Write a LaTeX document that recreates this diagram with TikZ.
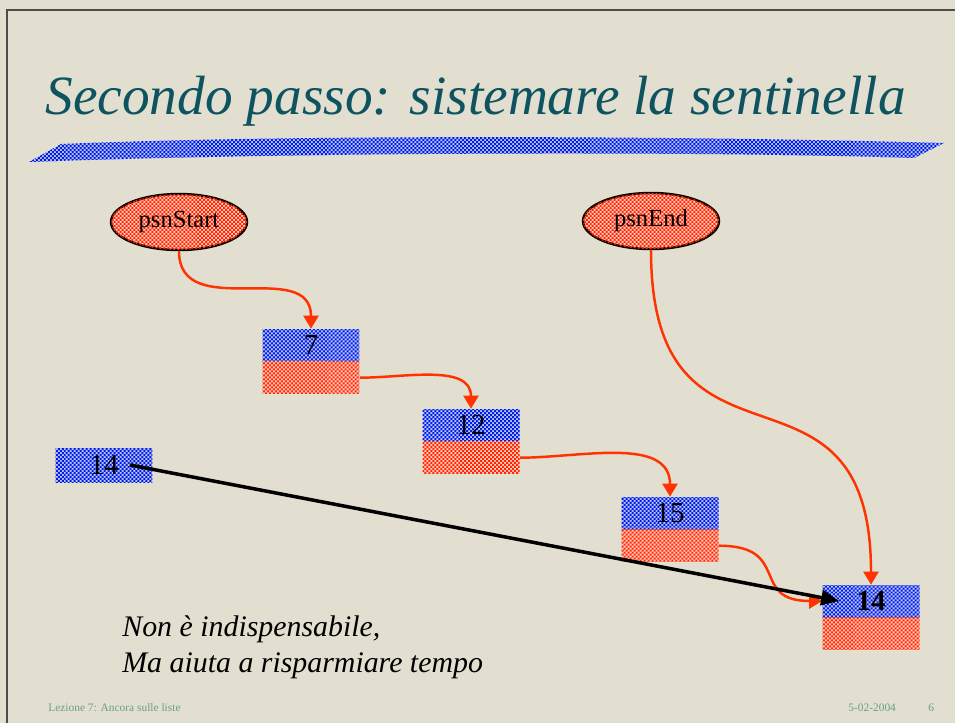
\documentclass[tikz,border=0pt]{standalone}
\usepackage{fontspec}
\setmainfont{Liberation Serif}
\usetikzlibrary{positioning, arrows.meta, shapes.geometric, patterns}
\definecolor{slidebg}{RGB}{226,223,209}
\definecolor{titleteal}{RGB}{14,84,96}
\definecolor{chkblue}{RGB}{0,30,225}
\definecolor{chkred}{RGB}{255,40,0}
\definecolor{linkred}{RGB}{255,50,0}
\definecolor{footgreen}{RGB}{105,160,125}
\pgfdeclarepatternformonly{finechecker}{\pgfqpoint{-0.1pt}{-0.1pt}}{\pgfqpoint{2.368pt}{2.368pt}}{\pgfqpoint{2.268pt}{2.268pt}}{%
	\pgfpathrectangle{\pgfqpoint{0pt}{0pt}}{\pgfqpoint{1.134pt}{1.134pt}}%
	\pgfpathrectangle{\pgfqpoint{1.134pt}{1.134pt}}{\pgfqpoint{1.134pt}{1.134pt}}%
	\pgfusepath{fill}}

\begin{document}
\begin{tikzpicture}[
		x=0.02cm, y=-0.02cm,
		>=stealth,
		ptr/.style={draw, ellipse, line width=1.4pt, minimum width=2.72cm, minimum height=1.12cm, inner sep=0pt, fill=chkred!22!white, postaction={pattern=finechecker, pattern color=chkred}, font=\fontsize{14}{14}\selectfont},
		datafld/.style={rectangle, minimum width=1.94cm, minimum height=0.64cm, inner sep=0pt, fill=chkblue!25!white, postaction={pattern=finechecker, pattern color=chkblue}, font=\fontsize{16.5}{16.5}\selectfont},
		nextfld/.style={rectangle, minimum width=1.94cm, minimum height=0.64cm, inner sep=0pt, fill=chkred!22!white, postaction={pattern=finechecker, pattern color=chkred}},
		link/.style={draw=linkred, line width=1.4pt, -{Triangle[length=0.26cm, width=0.3cm]}},
		newlink/.style={draw=black, line width=2pt, -{Triangle[length=0.36cm, width=0.3cm]}},
	]
	\useasboundingbox (0,0) rectangle (955,723);
	\fill[slidebg] (0,0) rectangle (955,723);
	\draw[black!70, line width=1.2pt] (7,723) -- (7,10) -- (955,10);

	% title and stripe
	\node[anchor=base west, inner sep=0pt, text=titleteal, font=\fontsize{31.5}{31.5}\selectfont\itshape] (title) at (45,114) {Secondo passo: sistemare la sentinella};
	\fill[chkblue!25!white] (29,162) -- (61,144) .. controls (300,134) and (700,136) .. (944,143) -- (914,158) .. controls (700,151) and (300,152) .. cycle;
	\fill[pattern=finechecker, pattern color=chkblue] (29,162) -- (61,144) .. controls (300,134) and (700,136) .. (944,143) -- (914,158) .. controls (700,151) and (300,152) .. cycle;

	% pointers
	\node[ptr] (start) at (179,222) {psnStart};
	\node[ptr] (finish) at (651,221) {psnEnd};

	% list elements
	\node[datafld] (d7) at (311,345) {7};
	\node[nextfld, below=0pt of d7] (n7) {};
	\node[datafld] (d12) at (471,425) {12};
	\node[nextfld, below=0pt of d12] (n12) {};
	\node[datafld] (d15) at (670,513) {15};
	\node[nextfld, below=0pt of d15] (n15) {};
	\node[datafld, font=\fontsize{16.5}{16.5}\selectfont\bfseries] (d14) at (871,601) {14};
	\node[nextfld, below=0pt of d14] (n14) {};
	\node[datafld, minimum height=0.68cm] (extra) at (104,465) {14};

	\draw[link] (start.south) to[out=-90, in=90, looseness=1.2] (d7.north);
	\draw[link] (n7.east) to[out=0, in=90] (d12.north);
	\draw[link] (n12.east) to[out=0, in=90] (d15.north);
	\draw[link] (n15.east) to[out=0, in=180, looseness=1.6] (d14.west);
	\draw[link] (finish.south) to[out=-90, in=90, looseness=1.6] (d14.north);
	\draw[newlink] ([xshift=0.52cm]extra.center) -- ([xshift=0.34cm]d14.west);

	% note
	\node[anchor=base west, inner sep=0pt, align=left, font=\fontsize{17}{20}\selectfont\itshape] (note) at (122,672) {Non è indispensabile,\\Ma aiuta a risparmiare tempo};

	% footer
	\node[anchor=base west, inner sep=0pt, text=footgreen, font=\fontsize{6.5}{6.5}\selectfont] (lesson) at (48,711) {Lezione 7: Ancora sulle liste};
	\node[anchor=base west, inner sep=0pt, text=footgreen, font=\fontsize{6.5}{6.5}\selectfont] (date) at (848,711) {5-02-2004};
	\node[anchor=base west, inner sep=0pt, text=footgreen, font=\fontsize{6.5}{6.5}\selectfont] (page) at (928,711) {6};
\end{tikzpicture}
\end{document}
